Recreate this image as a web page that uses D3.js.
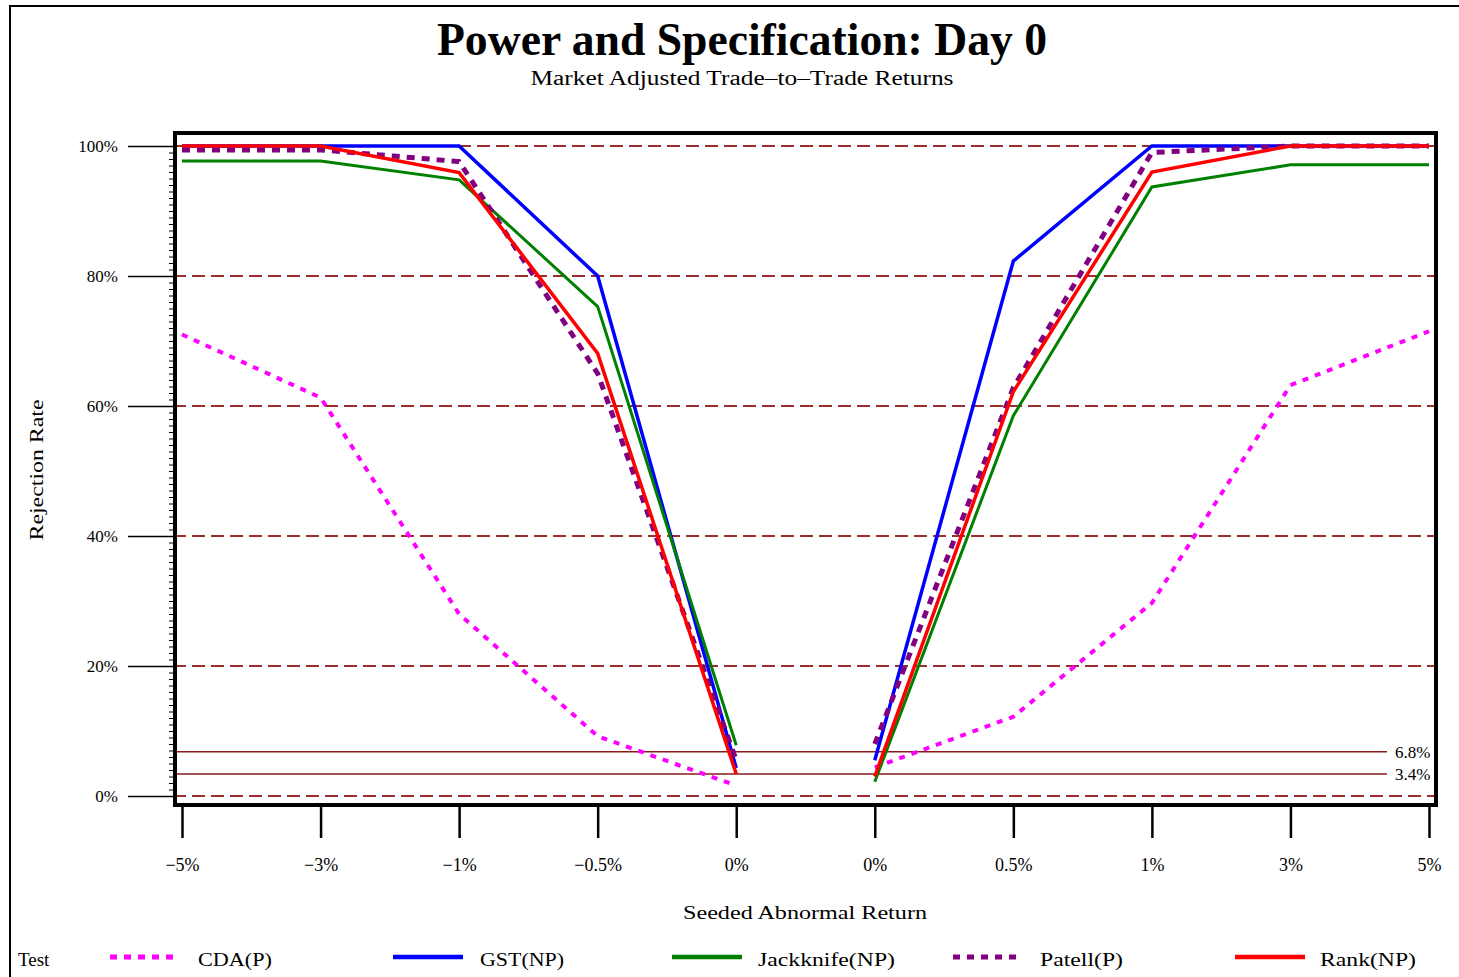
<!DOCTYPE html>
<html lang="en">
<head>
<meta charset="utf-8">
<title>Power and Specification: Day 0</title>
<script src="https://d3js.org/d3.v7.min.js"></script>
<style>
  body { margin: 0; background: #fff; }
  svg { display: block; font-family: "Liberation Serif", "DejaVu Serif", serif; }
  .tick text { font-family: "Liberation Serif", serif; fill: #000; }
</style>
</head>
<body>
<svg width="1459" height="977"></svg>
<script>
// categories along the x axis (the two 0% points are separate categories)
const categories = ["−5%", "−3%", "−1%", "−0.5%", "0%", "0%", "0.5%", "1%", "3%", "5%"];

// rejection rates in percent
const cda       = [71.0, 61.3, 28.0, 9.2, 1.6, 4.4, 12.2, 29.7, 63.2, 71.5];
const gst       = [100, 100, 100, 80.0, 4.3, 5.5, 82.3, 100, 100, 100];
const jackknife = [97.7, 97.7, 94.8, 75.3, 7.8, 2.2, 58.5, 93.7, 97.1, 97.1];
const patell    = [99.4, 99.4, 97.6, 65.0, 5.5, 8.0, 62.8, 99.0, 100, 100];
const rank      = [100, 100, 95.9, 68.1, 3.4, 3.0, 62.2, 96.0, 100, 100];

const seriesNames = ["CDA(P)", "GST(NP)", "Jackknife(NP)", "Patell(P)", "Rank(NP)"];
const yTicks = [0, 20, 40, 60, 80, 100];
const refLines = [6.8, 3.4];

// styles for each series
const styles = [
  {color: "#ff00ff", width: 4, dash: "6,7"},
  {color: "#0000ff", width: 3.5, dash: null},
  {color: "#008000", width: 3, dash: null},
  {color: "#800080", width: 5, dash: "8,7"},
  {color: "#ff0000", width: 3.5, dash: null}
];
const allSeries = [cda, gst, jackknife, patell, rank];

const svg = d3.select("svg");
const gridColor = "#9b2d2d";

// outer page border (top and left visible)
svg.append("rect")
   .attr("x", 10).attr("y", 6)
   .attr("width", 1470).attr("height", 990)
   .attr("fill", "none").attr("stroke", "#000").attr("stroke-width", 2);

// scales
const x = d3.scalePoint()
            .domain(d3.range(categories.length))
            .range([182, 1429]);
const y = d3.scaleLinear()
            .domain([0, 100])
            .range([796, 146]);

const frame = {left: 173, right: 1438, top: 131, bottom: 807};

// dashed grid lines
svg.append("g")
   .selectAll("line")
   .data(yTicks)
   .join("line")
   .attr("x1", frame.left).attr("x2", frame.right)
   .attr("y1", d => y(d)).attr("y2", d => y(d))
   .attr("stroke", gridColor)
   .attr("stroke-width", 2)
   .attr("stroke-dasharray", "13,6");

// solid reference lines at 6.8% and 3.4%
svg.append("g")
   .selectAll("line")
   .data(refLines)
   .join("line")
   .attr("x1", frame.left).attr("x2", 1387)
   .attr("y1", d => y(d)).attr("y2", d => y(d))
   .attr("stroke", "#8b1a1a")
   .attr("stroke-width", 1.5);

svg.append("g")
   .selectAll("text")
   .data(refLines)
   .join("text")
   .attr("x", 1395)
   .attr("y", d => y(d) + 6)
   .attr("font-size", 17)
   .text(d => d + "%");

// series lines: negative side and positive side are drawn separately
const line = d3.line()
               .x(d => x(d.i))
               .y(d => y(d.v));

const halves = [];
allSeries.forEach((s, k) => {
  const pts = s.map((v, i) => ({i, v}));
  halves.push({k, pts: pts.slice(0, 5)});
  halves.push({k, pts: pts.slice(5)});
});

svg.append("g")
   .selectAll("path")
   .data(halves)
   .join("path")
   .attr("d", d => line(d.pts))
   .attr("fill", "none")
   .attr("stroke", d => styles[d.k].color)
   .attr("stroke-width", d => styles[d.k].width)
   .attr("stroke-dasharray", d => styles[d.k].dash)
   .attr("stroke-linejoin", "miter");

// plot frame
svg.append("rect")
   .attr("x", frame.left + 2).attr("y", frame.top + 2)
   .attr("width", frame.right - frame.left - 4)
   .attr("height", frame.bottom - frame.top - 4)
   .attr("fill", "none").attr("stroke", "#000").attr("stroke-width", 4);

// y axis: major ticks with labels
const yAxis = d3.axisLeft(y)
                .tickValues(yTicks)
                .tickSize(45)
                .tickPadding(10)
                .tickFormat(d => d + "%");
const gy = svg.append("g")
              .attr("transform", `translate(${frame.left},0)`)
              .call(yAxis);
gy.select(".domain").remove();
gy.selectAll(".tick line").attr("stroke-width", 1.5);
gy.selectAll(".tick text").attr("font-size", 17);

// y axis: minor ticks every 1%
const gyMinor = svg.append("g")
                   .attr("transform", `translate(${frame.left},0)`)
                   .call(d3.axisLeft(y).tickValues(d3.range(0, 101, 1)).tickSize(4).tickFormat(""));
gyMinor.select(".domain").remove();

// x axis
const xAxis = d3.axisBottom(x)
                .tickSize(31)
                .tickPadding(20)
                .tickFormat(i => categories[i]);
const gx = svg.append("g")
              .attr("transform", `translate(0,${frame.bottom})`)
              .call(xAxis);
gx.select(".domain").remove();
gx.selectAll(".tick line").attr("stroke-width", 2.5);
gx.selectAll(".tick text").attr("font-size", 18);

// titles
svg.append("text")
   .attr("x", 742).attr("y", 55)
   .attr("text-anchor", "middle")
   .attr("font-size", 46).attr("font-weight", "bold")
   .attr("textLength", 610).attr("lengthAdjust", "spacingAndGlyphs")
   .text("Power and Specification: Day 0");

svg.append("text")
   .attr("x", 742).attr("y", 85)
   .attr("text-anchor", "middle")
   .attr("font-size", 20)
   .attr("textLength", 423).attr("lengthAdjust", "spacingAndGlyphs")
   .text("Market Adjusted Trade–to–Trade Returns");

svg.append("text")
   .attr("x", 805).attr("y", 919)
   .attr("text-anchor", "middle")
   .attr("font-size", 19)
   .attr("textLength", 244).attr("lengthAdjust", "spacingAndGlyphs")
   .text("Seeded Abnormal Return");

svg.append("text")
   .attr("transform", "translate(43,470) rotate(-90)")
   .attr("text-anchor", "middle")
   .attr("font-size", 19)
   .attr("textLength", 141).attr("lengthAdjust", "spacingAndGlyphs")
   .text("Rejection Rate");

// legend
const legendX = [110, 393, 672, 953, 1235];
const legendTextX = [198, 480, 758, 1040, 1320];
const legendW = [74, 84, 137, 83, 96];
const legendY = 957;

svg.append("text")
   .attr("x", 18).attr("y", 966)
   .attr("font-size", 19)
   .text("Test");

const lg = svg.append("g")
              .selectAll("g")
              .data(seriesNames)
              .join("g");

lg.append("line")
  .attr("x1", (d, i) => legendX[i])
  .attr("x2", (d, i) => legendX[i] + 70)
  .attr("y1", legendY).attr("y2", legendY)
  .attr("stroke", (d, i) => styles[i].color)
  .attr("stroke-width", (d, i) => styles[i].dash ? 5 : 4.5)
  .attr("stroke-dasharray", (d, i) => styles[i].dash ? "7,7" : null);

lg.append("text")
  .attr("x", (d, i) => legendTextX[i])
  .attr("y", 966)
  .attr("font-size", 19)
  .attr("textLength", (d, i) => legendW[i]).attr("lengthAdjust", "spacingAndGlyphs")
  .text(d => d);
</script>
</body>
</html>
